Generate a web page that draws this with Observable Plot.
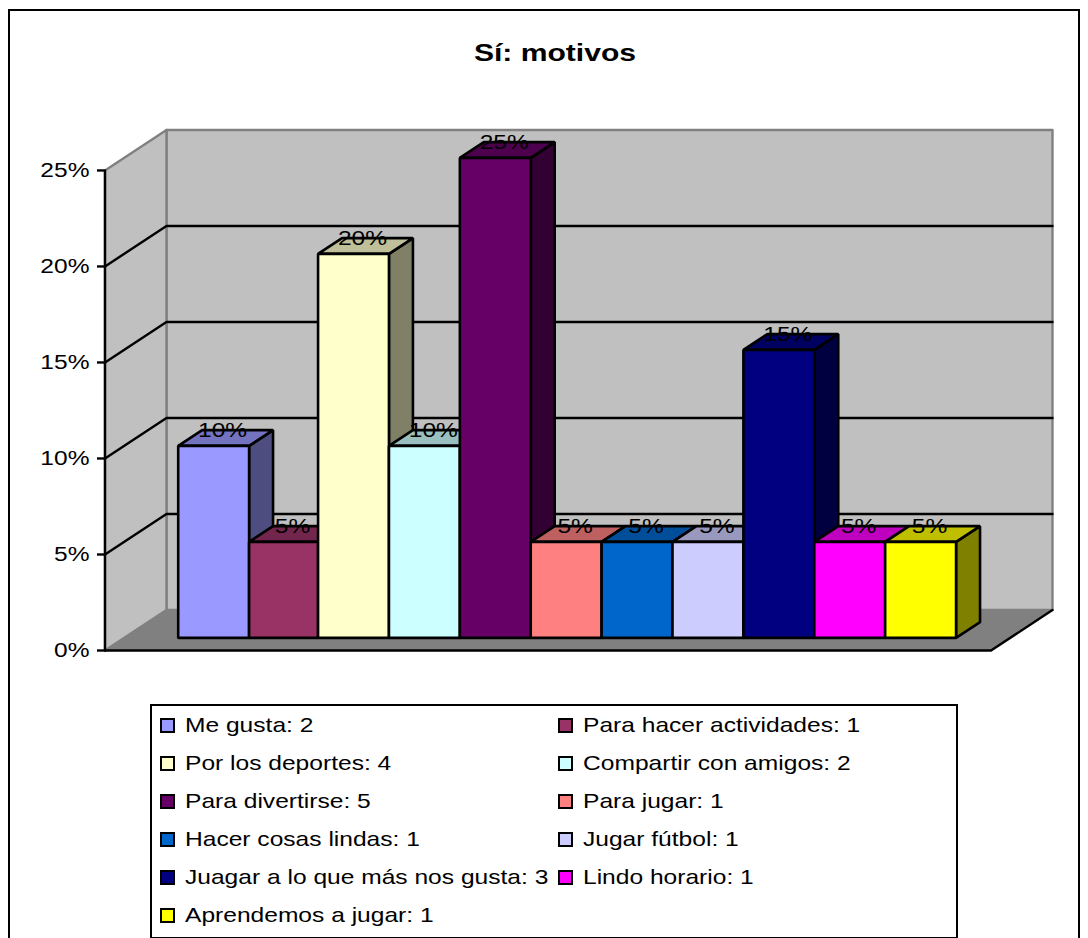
<!DOCTYPE html>
<html lang="es">
<head>
<meta charset="utf-8">
<title>Sí: motivos</title>
<script src="https://cdn.jsdelivr.net/npm/d3@7"></script>
<script src="https://cdn.jsdelivr.net/npm/@observablehq/plot@0.6"></script>
<style>
  html, body { margin: 0; padding: 0; background: #fff; overflow: hidden; }
  #page { position: relative; width: 1088px; height: 938px; overflow: hidden; font-family: "Liberation Sans", Arial, sans-serif; color: #000; }
  #frame { position: absolute; left: 8px; top: 9px; width: 1068px; height: 1000px; border: 2px solid #000; }
  #title { position: absolute; left: 0; width: 1110px; top: 39px; text-align: center; font-size: 23.5px; font-weight: bold; line-height: 28px; margin: 0; transform: scaleX(1.28); transform-origin: 555px 0; }
  #chart { position: absolute; left: 0; top: 100px; }
  #chart svg { display: block; overflow: visible; }
  #legend { position: absolute; left: 150px; top: 704px; height: 231px; border: 2px solid #000; display: grid; grid-template-columns: 398px 398px; grid-auto-rows: 38px; padding-left: 8px; box-sizing: content-box; width: 796px; font-size: 21px; background: #fff; }
  .item { display: flex; align-items: center; white-space: nowrap; }
  .swatch { width: 11px; height: 11px; border: 2px solid #000; margin-right: 10px; flex: none; }
  .item .label { display: inline-block; transform: scaleX(1.17); transform-origin: 0 50%; }
</style>
</head>
<body>
<div id="page">
  <div id="frame"></div>
  <h1 id="title">Sí: motivos</h1>
  <div id="chart"></div>
  <div id="legend"></div>
</div>
<script>
const categories = ["Me gusta", "Para hacer actividades", "Por los deportes", "Compartir con amigos", "Para divertirse", "Para jugar", "Hacer cosas lindas", "Jugar fútbol", "Juagar a lo que más nos gusta", "Lindo horario", "Aprendemos a jugar"];
const counts = [2, 1, 4, 2, 5, 1, 1, 1, 3, 1, 1];
const percents = [10, 5, 20, 10, 25, 5, 5, 5, 15, 5, 5];
const colors = ["#9999FF", "#993366", "#FFFFCC", "#CCFFFF", "#660066", "#FF8080", "#0066CC", "#CCCCFF", "#000080", "#FF00FF", "#FFFF00"];
const yTicks = [0, 5, 10, 15, 20, 25];

// Oblique projection: a point (slot, value) at depth d (0 = front plane, 1 = back wall)
const gap = 0.763, skewX = 0.867, skewY = 2.107;
const barFront = 0.311, barBack = 0.701;
const yMax = 25;
const narrowing = 0.027; // the second bar is drawn slightly narrower in the reference
const edge = i => i >= 2 ? i - narrowing : i;
const slotMin = -gap, slotMax = categories.length + gap - narrowing;
const P = (s, v, d) => ({x: s + d * skewX, y: v + d * skewY});
const shade = (c, k) => { const r = d3.rgb(c); return d3.rgb(r.r * k, r.g * k, r.b * k).formatHex(); };

const poly = (id, fill, corners) => corners.map(([s, v, d]) => ({id, fill, ...P(s, v, d)}));

const backWall = poly("back", "#C0C0C0", [[slotMin, 0, 1], [slotMax, 0, 1], [slotMax, yMax, 1], [slotMin, yMax, 1]]);
const sideWall = poly("side", "#C0C0C0", [[slotMin, 0, 0], [slotMin, 0, 1], [slotMin, yMax, 1], [slotMin, yMax, 0]]);
const floor = poly("floor", "#808080", [[slotMin, 0, 0], [slotMax, 0, 0], [slotMax, 0, 1], [slotMin, 0, 1]]);
const gridPts = yTicks.slice(1, -1).flatMap(v => [
  {id: v, ...P(slotMin, v, 0)}, {id: v, ...P(slotMin, v, 1)}, {id: v, ...P(slotMax, v, 1)}
]);

const barPolys = percents.flatMap((v, i) => {
  const a = edge(i), b = edge(i + 1);
  return [
    ...poly(`r${i}`, shade(colors[i], 0.5), [[b, 0, barFront], [b, 0, barBack], [b, v, barBack], [b, v, barFront]]),
    ...poly(`t${i}`, shade(colors[i], 0.75), [[a, v, barFront], [b, v, barFront], [b, v, barBack], [a, v, barBack]]),
    ...poly(`f${i}`, colors[i], [[a, 0, barFront], [b, 0, barFront], [b, v, barFront], [a, v, barFront]])
  ];
});

const labels = percents.map((v, i) => ({text: `${v}%`, x: P((edge(i) + edge(i + 1)) / 2, v, 0.457).x, y: P(0, v, barBack).y}));

const polyOpts = {x: "x", y: "y", z: "id", curve: "linear-closed"};
const lineBlack = {x: "x", y: "y", stroke: "#000", strokeWidth: 2.4};

const plot = Plot.plot({
  width: 1088,
  height: 560,
  marginLeft: 104.5,
  marginRight: 36,
  marginTop: 29.5,
  marginBottom: 10,
  style: {fontFamily: '"Liberation Sans", Arial, sans-serif', fontSize: "21px", color: "#000", background: "transparent"},
  x: {domain: [slotMin, slotMax + skewX], axis: null},
  y: {domain: [0, yMax + skewY], axis: null},
  marks: [
    Plot.line(backWall, {...polyOpts, fill: "#C0C0C0", stroke: "#808080", strokeWidth: 2.4}),
    Plot.line(sideWall, {...polyOpts, fill: "#C0C0C0", stroke: "#808080", strokeWidth: 2.4}),
    Plot.line(floor, {...polyOpts, fill: "#808080", stroke: "#808080", strokeWidth: 1}),
    Plot.line(gridPts, {...lineBlack, z: "id"}),
    Plot.line([P(slotMin, 0, 0), P(slotMax, 0, 0), P(slotMax, 0, 1)], lineBlack),
    Plot.line([P(slotMin, 0, 0), P(slotMin, yMax, 0)], lineBlack),
    Plot.axisY({ticks: yTicks, tickFormat: d => `${d}%`, tickSize: 7.5, tickPadding: 8, strokeWidth: 2.4, stroke: "#000", fill: "#000", fontSize: 21, label: null}),
    Plot.line(barPolys, {...polyOpts, fill: "fill", stroke: "#000", strokeWidth: 2.6, strokeLinejoin: "miter"}),
    Plot.text(labels, {x: "x", y: "y", text: "text", fill: "#000", fontSize: 21, lineAnchor: "middle"})
  ]
});
document.getElementById("chart").appendChild(plot);

// The reference's text is stretched horizontally; keep the baseline offset Plot sets on y
d3.select(plot).selectAll("text").each(function () {
  const t = d3.select(this);
  t.attr("transform", `${t.attr("transform") || ""} scale(1.17,1)`);
});

const legend = document.getElementById("legend");
categories.forEach((name, i) => {
  const item = document.createElement("div");
  item.className = "item";
  const sw = document.createElement("span");
  sw.className = "swatch";
  sw.style.background = colors[i];
  const label = document.createElement("span");
  label.className = "label";
  label.textContent = `${name}: ${counts[i]}`;
  item.append(sw, label);
  legend.appendChild(item);
});
</script>
</body>
</html>
